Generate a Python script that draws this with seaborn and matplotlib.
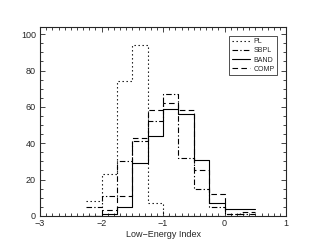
import numpy as np
import pandas as pd
import seaborn as sns
import matplotlib.pyplot as plt
from matplotlib.ticker import MultipleLocator

# bin edges of the low-energy index histogram
edges = [-2.25, -2.0, -1.75, -1.5, -1.25, -1.0, -0.75, -0.5, -0.25, 0.0, 0.25, 0.5]
centers = [(a + b) / 2 for a, b in zip(edges[:-1], edges[1:])]

# counts per bin
pl = [8, 23, 74, 94, 7, 0, 0, 0, 0, 0, 0]
sbpl = [5, 11, 30, 41, 52, 67, 32, 15, 5, 1, 1]
band = [0, 1, 5, 29, 44, 59, 56, 31, 7, 4, 4]
comp = [0, 3, 11, 43, 58, 62, 58, 25, 12, 1, 2]

series = ['PL', 'SBPL', 'BAND', 'COMP']
counts = [pl, sbpl, band, comp]
styles = [(0, (1.2, 2.4)), (0, (5, 2, 1.2, 2)), '-', (0, (5, 3))]

sns.set_style('ticks')
plt.rcParams['font.family'] = ['Liberation Sans', 'DejaVu Sans']
plt.rcParams['xtick.direction'] = 'in'
plt.rcParams['ytick.direction'] = 'in'

fig = plt.figure(figsize=(3.11, 2.49), dpi=100)
ax = fig.add_axes([0.129, 0.133, 0.791, 0.759])

for name, c, ls in zip(series, counts, styles):
    df = pd.DataFrame({'x': centers, 'n': c})
    sns.histplot(data=df, x='x', weights='n', bins=edges, element='step',
                 fill=False, color='black', linestyle=ls, linewidth=0.8,
                 label=name, ax=ax)

ax.set_xlim(-3, 1)
ax.set_ylim(0, 104)
ax.xaxis.set_major_locator(MultipleLocator(1))
ax.xaxis.set_minor_locator(MultipleLocator(0.1))
ax.yaxis.set_major_locator(MultipleLocator(20))
ax.yaxis.set_minor_locator(MultipleLocator(5))
ax.tick_params(which='both', top=True, right=True, width=0.6, labelsize=6.5)
ax.tick_params(axis='x', pad=2.5)
ax.tick_params(axis='y', pad=3)
ax.tick_params(which='major', length=3.5)
ax.tick_params(which='minor', length=2)
for s in ax.spines.values():
    s.set_linewidth(0.8)

ax.set_xlabel('Low\u2212Energy Index', fontsize=6.5, labelpad=1)
ax.set_ylabel('')

h, l = ax.get_legend_handles_labels()
leg = ax.legend(h, l, loc='upper right', fontsize=5, frameon=True, fancybox=False,
                edgecolor='black', handlelength=2.6, borderaxespad=1.3,
                labelspacing=0.3, borderpad=0.35, handletextpad=0.5)
leg.get_frame().set_linewidth(0.6)

fig.savefig('out.png', dpi=100)
